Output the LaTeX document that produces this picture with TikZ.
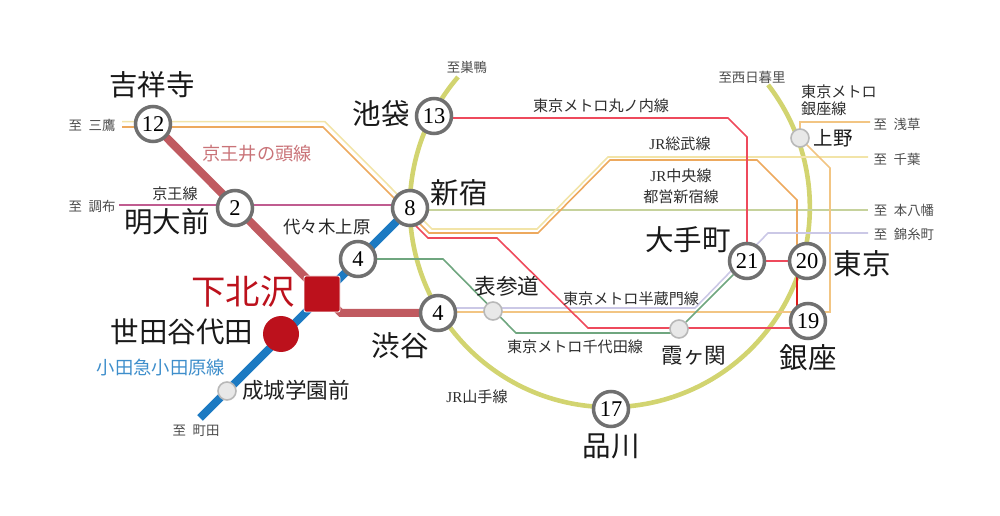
\documentclass[tikz,border=0pt]{standalone}
\usepackage{fontspec}
\usetikzlibrary{backgrounds}
\setmainfont{Noto Sans CJK JP}
\newfontfamily\latinf{Liberation Serif}
\newcommand{\fs}[1]{\fontsize{#1bp}{#1bp}\selectfont}
\definecolor{yama}{HTML}{D2D470}
\definecolor{inok}{HTML}{C05A60}
\definecolor{oda}{HTML}{1C7AC2}
\definecolor{keio}{HTML}{C05C90}
\definecolor{sobu}{HTML}{F2E4A8}
\definecolor{chuo}{HTML}{EDA95E}
\definecolor{ginz}{HTML}{F2C583}
\definecolor{maru}{HTML}{EE4A5C}
\definecolor{hanz}{HTML}{CBC8E6}
\definecolor{chiy}{HTML}{6FA67F}
\definecolor{shin}{HTML}{C6D29C}
\definecolor{shimo}{HTML}{BC111C}
\tikzset{
  num/.style={circle,draw=black!56,line width=3.5bp,fill=white,minimum size=35bp,inner sep=0pt,font=\latinf\fs{22.5},text=black},
  small/.style={circle,draw=black!28,line width=1.6bp,fill=black!9,minimum size=18bp,inner sep=0pt},
  big/.style={inner sep=0pt,font=\fs{28.5},text=black!90},
  mid/.style={inner sep=0pt,font=\fs{21.6},text=black!88},
  lab/.style={inner sep=0pt,font=\fs{15.1},text=black!82},
  to/.style={inner sep=0pt,font=\fs{13.4},text=black!70},
  line/.style={line width=1.6bp},
  thick line/.style={line width=8bp},
}
\begin{document}
\begin{tikzpicture}[x=1bp,y=-1bp]
\useasboundingbox (0,0) rectangle (1000,516);
% stations
\node[num] (s12) at (153,124) {12};
\node[num] (s2) at (235,208) {2};
\node[num] (s8) at (410,208) {8};
\node[num] (s13) at (434,116) {13};
\node[num] (sY) at (358,259) {4};
\node[num] (sS) at (438,313) {4};
\node[num] (s21) at (747,261) {21};
\node[num] (s20) at (807,261) {20};
\node[num] (s19) at (808,321) {19};
\node[num] (s17) at (611,409) {17};
\node[rectangle,rounded corners=2bp,draw=white,line width=0.8bp,fill=shimo,minimum size=36bp,inner sep=0pt] (sq) at (322,294) {};
\node[circle,fill=shimo,minimum size=36bp,inner sep=0pt] (sd) at (281,334) {};
\node[small] (seijo) at (227,391) {};
\node[small] (omo) at (493,311) {};
\node[small] (kasu) at (679,329) {};
\node[small] (ueno) at (800,138) {};
% free ends
\coordinate (yamaA) at (458,77);
\coordinate (odaEnd) at (200,418);
\coordinate (keioEnd) at (119,205);
\coordinate (sobuA) at (122,121.7);
\coordinate (sobuB) at (868,157);
\coordinate (chuoA) at (122,127);
\coordinate (ginzEnd) at (870,122);
\coordinate (hanzEnd) at (868,233);
\coordinate (shinEnd) at (868,210);
\begin{pgfonlayer}{background}
\draw[yama,line width=4.6bp] (yamaA) arc[start angle=139.4,end angle=397.7,radius=200bp];
\draw[shin,line] (s8 |- shinEnd) -- (shinEnd);
\draw[keio,line width=2.4bp] (keioEnd) -- (s8 |- keioEnd);
\draw[sobu,line] (sobuA) -- (325,121.7) -- (432,229) -- (537,229) -- (608,157) -- (sobuB);
\draw[chuo,line] (chuoA) -- (323,127) -- (429,233) -- (538,233) -- (610,160) -- (757,160) -- (797,200) -- (797,245);
\draw[ginz,line] (438,312) -- (830,312) -- (830,168) -- (ueno.center) -- (ueno.center |- ginzEnd) -- (ginzEnd);
\draw[hanz,line] (438,308) -- (695,308) -- (768,233) -- (hanzEnd);
\draw[chiy,line] (sY.center) -- (sY.center -| 443,259) -- (443,259) -- (516,333) -- (672,333);
\draw[chiy,line] (kasu) -- (s21);
\draw[maru,line] (s13.center |- 728,118) -- (728,118) -- (747,137) -- (s21.center);
\draw[maru,line] (s21) -- (s20);
\draw[red!85!black!90,line] (797,270) -- (797,312);
\draw[maru,line] (410,220) -- (428,238) -- (497,238) -- (588,328) -- (kasu.center |- 588,328);
\draw[maru,line] (kasu.center |- 588,328) -- (s19.center |- 588,328);
\draw[inok,thick line] (s12.center) -- (sq.center);
\draw[inok,thick line] (sq.center) -- (341,313) -- (sS.center |- 341,313);
\draw[oda,thick line] (s8.center) -- (odaEnd);
\end{pgfonlayer}
% labels
\node[big] (tKichi) at (152,85) {吉祥寺};
\node[to] (tMitaka) at (92,125) {至\hspace{0.5em}三鷹};
\node[to] (tChofu) at (92,206) {至\hspace{0.5em}調布};
\node[inner sep=0pt,font=\fs{18.2},text=inok!85!white] (tInok) at (257,154) {京王井の頭線};
\node[lab] (tKeio) at (175,194) {京王線};
\node[big] (tMeidai) at (167,222) {明大前};
\node[big] (tIke) at (381,114) {池袋};
\node[big] (tShinj) at (459,193) {新宿};
\node[inner sep=0pt,font=\fs{17.4},text=black!85] (tYoyo) at (327,227) {代々木上原};
\node[to] (tSuga) at (467,67) {至巣鴨};
\node[lab] (tMaru) at (601,106) {東京メトロ丸ノ内線};
\node[lab] (tSobu) at (680,144) {{\latinf JR}総武線};
\node[lab] (tChuo) at (681,176) {{\latinf JR}中央線};
\node[lab] (tToei) at (681,197) {都営新宿線};
\node[to] (tNishi) at (752,77) {至西日暮里};
\node[lab,anchor=west] (tGin1) at (801,92) {東京メトロ};
\node[lab,anchor=west] (tGin2) at (801,109) {銀座線};
\node[to] (tAsa) at (897,124) {至\hspace{0.5em}浅草};
\node[inner sep=0pt,font=\fs{19.5},text=black!90] (tUeno) at (833,138) {上野};
\node[to] (tChiba) at (897,159) {至\hspace{0.5em}千葉};
\node[to] (tMoto) at (904,210) {至\hspace{0.5em}本八幡};
\node[to] (tKin) at (904,234) {至\hspace{0.5em}錦糸町};
\node[big] (tOte) at (688,240) {大手町};
\node[big] (tTokyo) at (862,264) {東京};
\node[inner sep=0pt,font=\fs{34.4},text=shimo] (tShimo) at (243,292) {下北沢};
\node[big] (tSeta) at (182,332) {世田谷代田};
\node[inner sep=0pt,font=\fs{18.3},text=oda!85!white] (tOda) at (161,368) {小田急小田原線};
\node[mid] (tSeijo) at (296,390) {成城学園前};
\node[to] (tMachi) at (196,431) {至\hspace{0.5em}町田};
\node[big] (tShibu) at (400,346) {渋谷};
\node[mid] (tOmo) at (507,286) {表参道};
\node[lab] (tHanz) at (631,299) {東京メトロ半蔵門線};
\node[lab] (tChiy) at (575,347) {東京メトロ千代田線};
\node[mid] (tKasu) at (694,356) {霞ヶ関};
\node[big] (tGinza) at (808,358) {銀座};
\node[big] (tShina) at (611,446) {品川};
\node[lab] (tYama) at (477,397) {{\latinf JR}山手線};
\end{tikzpicture}
\end{document}
